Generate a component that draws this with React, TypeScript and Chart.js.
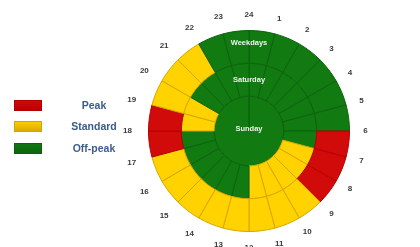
import React, { useEffect, useRef } from "react";
import { Chart, registerables } from "chart.js";

Chart.register(...registerables);

// Hour tick labels at segment boundaries, clockwise from the top
const hourTicks = ["24", "1", "2", "3", "4", "5", "6", "7", "8", "9", "10", "11", "12", "13", "14", "15", "16", "17", "18", "19", "20", "21", "22", "23"];
// Duration of each hourly segment
const hourDuration = [1, 1, 1, 1, 1, 1, 1, 1, 1, 1, 1, 1, 1, 1, 1, 1, 1, 1, 1, 1, 1, 1, 1, 1];
// Tariff per hour segment
const weekdayTariff = [
  "Off-peak", "Off-peak", "Off-peak", "Off-peak", "Off-peak", "Off-peak",
  "Peak", "Peak", "Peak",
  "Standard", "Standard", "Standard", "Standard", "Standard", "Standard", "Standard", "Standard",
  "Peak", "Peak",
  "Standard", "Standard", "Standard",
  "Off-peak", "Off-peak",
];
const saturdayTariff = [
  "Off-peak", "Off-peak", "Off-peak", "Off-peak", "Off-peak", "Off-peak", "Off-peak",
  "Standard", "Standard", "Standard", "Standard", "Standard",
  "Off-peak", "Off-peak", "Off-peak", "Off-peak", "Off-peak", "Off-peak",
  "Standard", "Standard",
  "Off-peak", "Off-peak", "Off-peak", "Off-peak",
];
const sundayTariff = ["Off-peak"];
const sundayDuration = [24];
const ringNames = ["Weekdays", "Saturday", "Sunday"];
const legendItems = ["Peak", "Standard", "Off-peak"];

const fillColor: Record<string, string> = {
  Peak: "#d10a0a",
  Standard: "#ffd200",
  "Off-peak": "#117a11",
};
const edgeColor: Record<string, string> = {
  Peak: "#b50000",
  Standard: "#d6a600",
  "Off-peak": "#0c620c",
};

const overlay = {
  id: "overlay",
  afterDatasetsDraw(chart: any) {
    const ctx = chart.ctx as CanvasRenderingContext2D;
    const outer = chart.getDatasetMeta(0).data[0] as any;
    const mid = chart.getDatasetMeta(1).data[0] as any;
    const cx = outer.x;
    const cy = outer.y;
    const R = outer.outerRadius;
    ctx.save();
    ctx.textAlign = "center";
    ctx.textBaseline = "middle";
    // hour labels
    ctx.font = 'bold 8px "Liberation Sans", Arial, sans-serif';
    ctx.fillStyle = "#3a3a3a";
    hourTicks.forEach((t, i) => {
      const a = ((i * 15 - 90) * Math.PI) / 180;
      const r = R + 16 + 5 * Math.max(0, -Math.cos(a));
      ctx.fillText(t, cx + r * Math.cos(a), cy + r * Math.sin(a));
    });
    // ring labels
    ctx.font = 'bold 7.5px "Liberation Sans", Arial, sans-serif';
    ctx.fillStyle = "#eef4ee";
    ctx.fillText(ringNames[0], cx, cy - (outer.outerRadius - 12));
    ctx.fillText(ringNames[1], cx, cy - (mid.innerRadius + mid.outerRadius) / 2);
    ctx.fillText(ringNames[2], cx, cy - 2);

    // legend
    const boxX = 14, boxW = 28, boxH = 11;
    const ys = [100, 121, 143];
    legendItems.forEach((name, i) => {
      const y = ys[i];
      const g = ctx.createLinearGradient(0, y, 0, y + boxH);
      g.addColorStop(0, fillColor[name]);
      g.addColorStop(1, edgeColor[name]);
      ctx.fillStyle = g;
      ctx.fillRect(boxX, y, boxW, boxH);
      ctx.strokeStyle = edgeColor[name];
      ctx.lineWidth = 1;
      ctx.strokeRect(boxX + 0.5, y + 0.5, boxW - 1, boxH - 1);
      ctx.font = 'bold 10.5px "Liberation Sans", Arial, sans-serif';
      ctx.fillStyle = "#3b5b8c";
      ctx.fillText(name, 94, y + boxH / 2 + 0.5);
    });
    ctx.restore();
  },
};

export default function App() {
  const ref = useRef<HTMLCanvasElement>(null);
  useEffect(() => {
    document.body.style.margin = "0";
    const chart = new Chart(ref.current as HTMLCanvasElement, {
      type: "doughnut",
      data: {
        labels: hourTicks,
        datasets: [
          {
            label: ringNames[0],
            data: hourDuration,
            backgroundColor: weekdayTariff.map((t) => fillColor[t]),
            borderColor: weekdayTariff.map((t) => edgeColor[t]),
            borderWidth: 1,
            weight: 33,
          } as any,
          {
            label: ringNames[1],
            data: hourDuration,
            backgroundColor: saturdayTariff.map((t) => fillColor[t]),
            borderColor: saturdayTariff.map((t) => edgeColor[t]),
            borderWidth: 1,
            weight: 33,
          } as any,
          {
            label: ringNames[2],
            data: sundayDuration,
            backgroundColor: sundayTariff.map((t) => fillColor[t]),
            borderColor: sundayTariff.map((t) => edgeColor[t]),
            borderWidth: 1,
            weight: 35,
          } as any,
        ],
      },
      options: {
        animation: false,
        responsive: false,
        cutout: 0,
        layout: { padding: { left: 148, right: 70, top: 30, bottom: 15 } },
        plugins: {
          legend: { display: false },
          tooltip: { enabled: false },
        },
      } as any,
      plugins: [overlay],
    });
    return () => chart.destroy();
  }, []);
  return (
    <div style={{ position: "absolute", left: 0, top: 0, width: 420, height: 247, background: "#fff" }}>
      <canvas ref={ref} width={420} height={247} style={{ width: 420, height: 247 }} />
    </div>
  );
}
